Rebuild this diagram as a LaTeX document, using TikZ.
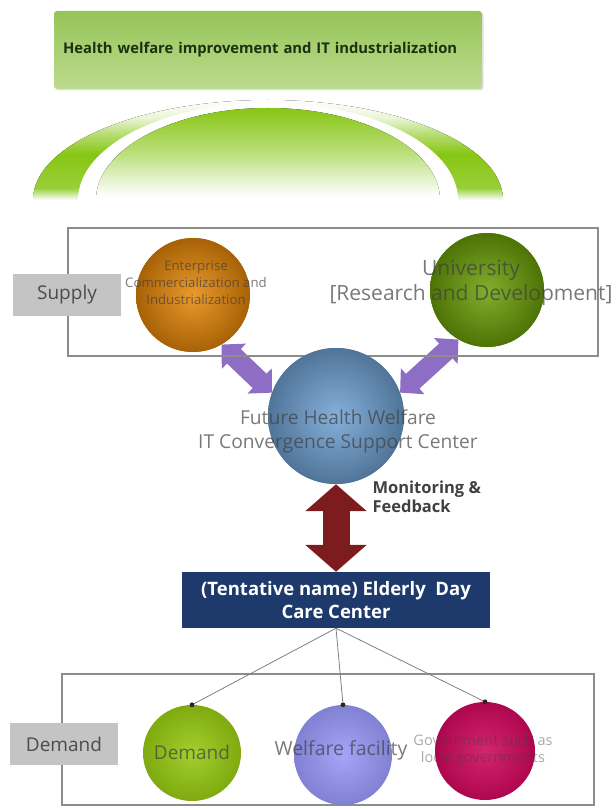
\documentclass[tikz,border=0pt]{standalone}
\usepackage{fontspec}
\setmainfont{Open Sans}
\usetikzlibrary{arrows.meta,shapes.geometric,shadows}
\definecolor{leafgreen}{RGB}{135,198,20}
\definecolor{titletop}{RGB}{150,196,88}
\definecolor{titlebot}{RGB}{188,219,142}
\definecolor{titleink}{RGB}{28,48,18}
\definecolor{orangeorb}{RGB}{232,136,8}
\definecolor{oliveorb}{RGB}{108,160,8}
\definecolor{skyorb}{RGB}{112,162,212}
\definecolor{limeorb}{RGB}{150,200,18}
\definecolor{lilacorb}{RGB}{152,152,248}
\definecolor{wineorb}{RGB}{205,8,92}
\definecolor{lilacarrow}{RGB}{142,110,196}
\definecolor{brickarrow}{RGB}{124,28,30}
\definecolor{navybox}{RGB}{30,58,108}
\definecolor{tagfill}{RGB}{196,196,196}
\definecolor{framegray}{RGB}{140,140,140}
% arch fades (25bp = bottom of path, 75bp = top of path)
\pgfdeclareverticalshading{ringfade}{100bp}{color(0bp)=(white); color(25bp)=(white);
  color(31bp)=(leafgreen!85); color(48bp)=(leafgreen); color(58bp)=(leafgreen!60);
  color(66bp)=(leafgreen!18!white); color(75bp)=(white); color(100bp)=(white)}
\pgfdeclareverticalshading{domefade}{100bp}{color(0bp)=(white); color(27bp)=(white);
  color(50bp)=(leafgreen!55); color(75bp)=(leafgreen); color(100bp)=(leafgreen)}
\tikzset{
  titlebox/.style={top color=titletop, bottom color=titlebot, rounded corners=3pt,
                   drop shadow={opacity=0.25, shadow xshift=1.5pt, shadow yshift=-1.5pt},
                   minimum height=78pt, text width=410pt, inner xsep=9pt, align=left,
                   font=\fontsize{14.8}{17}\selectfont\bfseries, text=titleink},
  frame/.style={draw=framegray, line width=1.2pt},
  tagbox/.style={fill=tagfill, minimum width=108pt, minimum height=42pt, text=black!70,
                 font=\fontsize{19}{21}\selectfont},
  orb/.style={circle, inner sep=0pt, inner color=#1!85!white, outer color=#1!72!black},
  egg/.style={ellipse, inner sep=0pt, inner color=#1!88!white, outer color=#1!85!black},
  orbtext/.style={align=center, text=black!75, text opacity=0.7},
  lilacduo/.style={lilacarrow, line width=20pt,
                   {Triangle[width=34pt,length=17pt]}-{Triangle[width=34pt,length=17pt]}},
  brickduo/.style={brickarrow, line width=27pt,
                   {Triangle[width=60pt,length=27pt]}-{Triangle[width=60pt,length=27pt]}},
  caretbox/.style={fill=navybox, minimum width=308pt, minimum height=56pt, align=center,
                   text=white, font=\fontsize{18.5}{23}\selectfont\bfseries},
  twig/.style={draw=black!50, line width=0.8pt},
  tipdot/.style={circle, fill=black!85, inner sep=1.7pt},
}
\begin{document}
\begin{tikzpicture}[x=1pt,y=-1pt]
  \useasboundingbox (0,0) rectangle (615,810);
  % goal and arch
  \node[titlebox] (goal) at (268,50) {Health welfare improvement and IT industrialization};
  \fill[shading=ringfade]
    (33,200) arc[start angle=180, end angle=360, x radius=235, y radius=100] -- cycle;
  \fill[white] (78,200) arc[start angle=180, end angle=360, x radius=190, y radius=97] -- cycle;
  \fill[shading=domefade]
    (96,200) arc[start angle=180, end angle=360, x radius=172, y radius=92] -- cycle;

  % supply side
  \node[orb=orangeorb, minimum size=114pt] (firm) at (193,295) {};
  \node[orb=oliveorb, minimum size=114pt] (univ) at (487,290) {};
  \node[orb=skyorb, minimum size=136pt] (hub) at (336,416) {};
  \draw[lilacduo] (firm.-60) -- (hub.160);
  \draw[lilacduo] (univ.-120) -- (hub.20);
  \draw[frame] (68,228) rectangle (598,356);
  \node[orb=orangeorb, minimum size=114pt] at (firm) {};
  \node[orb=oliveorb, minimum size=114pt] at (univ) {};
  \node[orb=skyorb, minimum size=136pt] at (hub) {};
  \node[orbtext, font=\fontsize{13.2}{17}\selectfont] (firmtxt) at (196,283)
    {Enterprise\\Commercialization and\\Industrialization};
  \node[orbtext, font=\fontsize{21}{25}\selectfont] (univtxt) at (471,283)
    {University\\{[}Research and Development{]}};
  \node[orbtext, font=\fontsize{19.2}{24}\selectfont] (hubtxt) at (338,431)
    {Future Health Welfare\\IT Convergence Support Center};
  \node[tagbox] (supply) at (67,295) {Supply};

  % monitoring link
  \node[caretbox] (care) at (336,600) {(Tentative name) Elderly\ \ Day\\Care Center};
  \draw[brickduo] (hub.south) -- (care.north);
  \node[anchor=west, align=left, text=black!75, font=\fontsize{16.5}{19.5}\selectfont\bfseries]
    (monit) at (369,497) {Monitoring \&\\Feedback};

  % demand side
  \draw[frame] (62,674) rectangle (594,805);
  \node[egg=limeorb, minimum width=98pt, minimum height=96pt] (need) at (192,753) {};
  \node[egg=lilacorb, minimum width=98pt, minimum height=100pt] (care2) at (343,755) {};
  \node[egg=wineorb, minimum width=100pt, minimum height=98pt] (gov) at (485,751) {};
  \node[tipdot] (d1) at (need.north) {};
  \node[tipdot] (d2) at (care2.north) {};
  \node[tipdot] (d3) at (gov.north) {};
  \draw[twig] (care.south) -- (d1);
  \draw[twig] (care.south) -- (d2);
  \draw[twig] (care.south) -- (d3);
  \node[orbtext, font=\fontsize{19}{22}\selectfont] (needtxt) at (192,752) {Demand};
  \node[orbtext, font=\fontsize{19.5}{22}\selectfont] (care2txt) at (341,750) {Welfare facility};
  \node[orbtext, text opacity=0.45, font=\fontsize{14.5}{17}\selectfont] (govtxt) at (483,750)
    {Government such as\\local governments};
  \node[tagbox] (demand) at (64,744) {Demand};
\end{tikzpicture}
\end{document}
